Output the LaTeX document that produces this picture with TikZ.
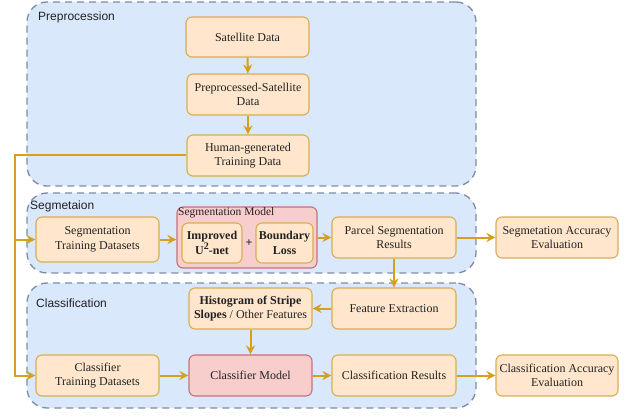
\documentclass[tikz,border=0pt]{standalone}
\usepackage{fontspec}
\setmainfont{Liberation Serif}
\newfontfamily\labelfont{Liberation Sans}
\usetikzlibrary{arrows.meta}
\definecolor{contfill}{HTML}{DAE8FC}
\definecolor{contline}{HTML}{7D8CA5}
\definecolor{boxfill}{HTML}{FFE6CC}
\definecolor{boxline}{HTML}{D8AE50}
\definecolor{pinkfill}{HTML}{F8CECC}
\definecolor{pinkline}{HTML}{C8707A}
\definecolor{arrcol}{HTML}{D4A01E}
\definecolor{txt}{HTML}{222222}
\tikzset{
  container/.style={draw=contline, fill=contfill, line width=1.3pt, dash pattern=on 7pt off 5pt, rounded corners=20pt, inner sep=0pt},
  contlabel/.style={font=\labelfont\fontsize{12}{14}\selectfont, text=txt, anchor=west, inner sep=0pt},
  stepbox/.style={draw=boxline, fill=boxfill, line width=1.1pt, rounded corners=6pt, align=center, inner sep=0pt, text=txt, font=\fontsize{12}{14.5}\selectfont},
  pinkbox/.style={draw=pinkline, fill=pinkfill, line width=1.1pt, rounded corners=6pt, align=center, inner sep=0pt, text=txt, font=\fontsize{12}{14.5}\selectfont},
  arr/.style={draw=arrcol, line width=2pt, -{Stealth[length=9pt,width=9pt,inset=3pt]}}
}
\begin{document}
\begin{tikzpicture}[x=1pt,y=-1pt]
\useasboundingbox (0,0) rectangle (627,417);
% containers
\node[container, minimum width=449pt, minimum height=184pt] (cpre) at (251.5,94) {};
\node[container, minimum width=449pt, minimum height=80pt] (cseg) at (251.5,233) {};
\node[container, minimum width=449pt, minimum height=125pt] (ccls) at (251.5,345.5) {};
\node[contlabel] (lpre) at (38,17) {Preprocession};
\node[contlabel] (lseg) at (30,206) {Segmetaion};
\node[contlabel] (lcls) at (36,303) {Classification};
% preprocessing
\node[stepbox, minimum width=123pt, minimum height=40pt] (sat) at (247.5,37) {Satellite Data};
\node[stepbox, minimum width=122pt, minimum height=41pt] (pre) at (248,94.5) {Preprocessed-Satellite\\Data};
\node[stepbox, minimum width=122pt, minimum height=41pt] (hum) at (248,155.5) {Human-generated\\Training Data};
% segmentation
\node[stepbox, minimum width=123pt, minimum height=45pt] (strain) at (97.5,239.5) {Segmentation\\Training Datasets};
\node[pinkbox, minimum width=140pt, minimum height=61pt] (segm) at (247,237.5) {};
\node[anchor=west, inner sep=0pt, text=txt, font=\fontsize{11.5}{13}\selectfont] (segml) at (178,213) {Segmentation Model};
\node[stepbox, minimum width=60pt, minimum height=40pt] (unet) at (212,243) {\textbf{Improved}\\\textbf{U\raisebox{0.42em}{\fontsize{10}{10}\selectfont 2}-net}};
\node[stepbox, minimum width=57pt, minimum height=40pt] (bloss) at (284.5,243) {\textbf{Boundary}\\\textbf{Loss}};
\node[inner sep=0pt, text=txt, font=\fontsize{12}{14}\selectfont\bfseries] (plus) at (249,243) {+};
\node[stepbox, minimum width=124pt, minimum height=41pt] (parcel) at (394,237.5) {Parcel Segmentation\\Results};
\node[stepbox, minimum width=122pt, minimum height=41pt] (seval) at (557,237.5) {Segmetation Accuracy\\Evaluation};
% classification
\node[stepbox, minimum width=124pt, minimum height=41pt] (feat) at (394,308.5) {Feature Extraction};
\node[stepbox, minimum width=123pt, minimum height=41pt] (hist) at (250.5,308.5) {\textbf{Histogram of Stripe}\\\textbf{Slopes} / Other Features};
\node[stepbox, minimum width=123pt, minimum height=41pt] (ctrain) at (97.5,375.5) {Classifier\\Training Datasets};
\node[pinkbox, minimum width=123pt, minimum height=41pt] (cmodel) at (250.5,375.5) {Classifier Model};
\node[stepbox, minimum width=124pt, minimum height=41pt] (cres) at (394,375.5) {Classification Results};
\node[stepbox, minimum width=122pt, minimum height=41pt] (ceval) at (557,375.5) {Classification Accuracy\\Evaluation};
% connectors
\draw[arr] (sat) -- (pre);
\draw[arr] (pre) -- (hum);
\coordinate (jc) at (15,375.5);
\draw[arr] (hum.west) -| (jc) -- (ctrain.west);
\draw[arr] (strain.west -| jc) -- (strain.west);
\draw[arr] (strain.east) -- (strain.east -| segm.west);
\draw[arr] (segm.east) -- (parcel.west);
\draw[arr] (parcel.east) -- (seval.west);
\draw[arr] (parcel.south) -- (feat.north);
\draw[arr] (feat.west) -- (hist.east);
\draw[arr] (hist.south) -- (cmodel.north);
\draw[arr] (ctrain.east) -- (cmodel.west);
\draw[arr] (cmodel.east) -- (cres.west);
\draw[arr] (cres.east) -- (ceval.west);
\end{tikzpicture}
\end{document}
